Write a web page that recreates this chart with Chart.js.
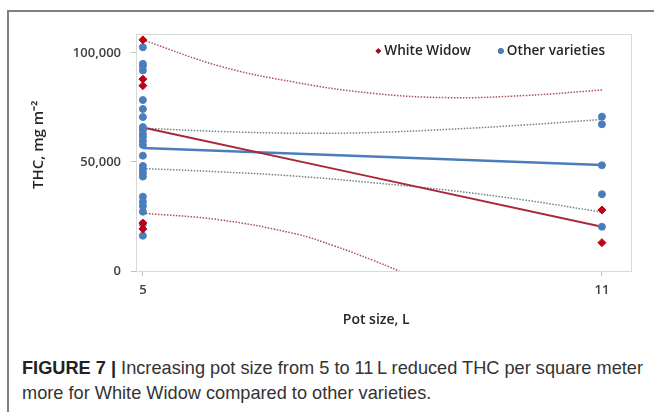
<!DOCTYPE html>
<html>
<head>
<meta charset="utf-8">
<script src="https://cdn.jsdelivr.net/npm/chart.js@4/dist/chart.umd.min.js"></script>
<style>
  html, body { margin: 0; padding: 0; background: #fff; }
  #wrap { position: relative; width: 654px; height: 412px; overflow: hidden; }
  #frame { position: absolute; left: 7px; top: 10px; width: 660px; height: 420px;
           border-top: 2px solid #808080; border-left: 2px solid #808080; }
  #chartBox { position: absolute; left: 0; top: 0; width: 654px; height: 340px; }
  #caption { position: absolute; left: 22px; top: 356px; width: 640px;
             font-family: "Liberation Sans", Arial, sans-serif; font-size: 18.2px;
             line-height: 25px; color: #333; white-space: nowrap; }
  #caption b { color: #222; }
</style>
</head>
<body>
<div id="wrap">
  <div id="frame"></div>
  <div id="chartBox"><canvas id="chart"></canvas></div>
  <div id="caption">
    <div><b>FIGURE 7 |</b> Increasing pot size from 5 to 11&#8201;L reduced THC per square meter</div>
    <div>more for White Widow compared to other varieties.</div>
  </div>
</div>
<script>
// pot size (L)
const potSizes = [5, 11];

// White Widow observations
const whiteWidow5 = [106000, 88000, 85000, 22000, 19300];
const whiteWidow11 = [28000, 13000];

// other varieties observations
const other5 = [102600, 95000, 94000, 92000, 78400, 74300, 70600, 66000, 64700, 62800, 61500,
                59600, 57800, 52900, 48200, 46600, 44900, 43300, 34100, 31800, 29800, 27200, 21600, 16200];
const other11 = [70800, 67300, 48500, 35200, 20300];

// regression lines (value at 5 L and 11 L)
const wwTrend = [65800, 20300];
const otherTrend = [56400, 48600];

// confidence bands
const bandX = [5, 6, 7, 8, 9, 10, 11];
const wwUpper = [106000, 94000, 86500, 81500, 79500, 80500, 83000];
const wwLowerX = [5, 6, 7, 7.5, 8, 8.35];
const wwLower = [26500, 23500, 17000, 11500, 5000, 0];
const otherUpper = [65500, 64000, 63200, 63500, 65000, 67000, 69500];
const otherLower = [47000, 45500, 43500, 40500, 37000, 32500, 27000];

const yTicks = [0, 50000, 100000];

const pts = (xs, ys) => ys.map((y, i) => ({ x: Array.isArray(xs) ? xs[i] : xs, y }));

const red = '#c00018';
const blue = '#4a7ebb';
const font = 'Open Sans';

// light box round the plot area
const plotBox = {
    id: 'plotBox',
    beforeDatasetsDraw(chart) {
        const a = chart.chartArea, ctx = chart.ctx;
        ctx.save();
        ctx.strokeStyle = '#d9d9d9';
        ctx.lineWidth = 1;
        ctx.strokeRect(a.left + 0.5, a.top + 0.5, a.right - a.left, a.bottom - a.top);
        ctx.restore();
    }
};

// legend drawn inside the plot, top right
const innerLegend = {
    id: 'innerLegend',
    afterDraw(chart) {
        const a = chart.chartArea, ctx = chart.ctx;
        const items = chart.data.datasets.filter(d => d.inLegend !== false);
        ctx.save();
        ctx.font = `600 13.6px "${font}"`;
        ctx.textBaseline = 'middle';
        const y = a.top + 17;
        let x = a.right - 26;
        for (let i = items.length - 1; i >= 0; i--) {
            const d = items[i];
            const w = ctx.measureText(d.label).width;
            ctx.fillStyle = '#262626';
            ctx.fillText(d.label, x - w, y);
            Chart.helpers.drawPoint(ctx, {
                pointStyle: d.pointStyle, radius: 2.8, rotation: 0, borderWidth: 0
            }, x - w - 6, y);
            ctx.fillStyle = d.backgroundColor;
            ctx.fill();
            x = x - w - 36;
        }
        ctx.restore();
    }
};

const lineDs = (data, color, width, dash, order) => ({
    type: 'line', data, borderColor: color, borderWidth: width, borderDash: dash,
    pointRadius: 0, fill: false, tension: 0.4, showLine: true, order, inLegend: false
});

new Chart(document.getElementById('chart'), {
    type: 'scatter',
    data: {
        datasets: [
            { label: 'White Widow', data: pts(5, whiteWidow5).concat(pts(11, whiteWidow11)),
              pointStyle: 'rectRot', pointRadius: 4, backgroundColor: red, borderColor: red, order: 0 },
            { label: 'Other varieties', data: pts(5, other5).concat(pts(11, other11)),
              pointStyle: 'circle', pointRadius: 3.5, backgroundColor: blue, borderColor: blue, order: 1 },
            lineDs(pts(potSizes, wwTrend), '#a8283a', 2, [], 3),
            lineDs(pts(potSizes, otherTrend), blue, 2.5, [], 3),
            lineDs(pts(bandX, wwUpper), '#a85058', 1.5, [1.5, 1.5], 4),
            lineDs(pts(wwLowerX, wwLower), '#a85058', 1.5, [1.5, 1.5], 4),
            lineDs(pts(bandX, otherUpper), '#6f8585', 1.5, [1.5, 1.5], 4),
            lineDs(pts(bandX, otherLower), '#6f8585', 1.5, [1.5, 1.5], 4)
        ]
    },
    options: {
        responsive: true,
        maintainAspectRatio: false,
        animation: false,
        layout: { padding: { left: 30, top: 34, right: 23, bottom: 0 } },
        plugins: {
            tooltip: { enabled: false },
            legend: { display: false }
        },
        scales: {
            x: {
                type: 'linear', min: 4.91, max: 11.38,
                afterFit: s => { s.height = 69; },
                afterBuildTicks: s => { s.ticks = potSizes.map(v => ({ value: v })); },
                grid: { drawOnChartArea: false, tickLength: 5, color: '#bfbfbf' },
                border: { color: '#bfbfbf' },
                ticks: { padding: 6, color: '#404040', font: { family: font, size: 13, weight: '600' } },
                title: { display: true, text: 'Pot size, L\u00A0\u00A0\u00A0\u00A0', color: '#262626',
                         font: { family: font, size: 14, weight: '600' }, padding: { top: 0, bottom: 12 } }
            },
            y: {
                min: 0, max: 108700,
                afterFit: s => { s.width = 106; },
                afterBuildTicks: s => { s.ticks = yTicks.map(v => ({ value: v })); },
                grid: { drawOnChartArea: false, tickLength: 5, color: '#bfbfbf' },
                border: { color: '#bfbfbf' },
                ticks: { padding: 10, color: '#404040', font: { family: font, size: 13, weight: '600' },
                         callback: v => v.toLocaleString('en-US') },
                title: { display: true, text: '\u00A0\u00A0\u00A0\u00A0THC, mg m\u207B\u00B2', color: '#262626',
                         font: { family: font, size: 15, weight: '600' }, padding: { top: 0, bottom: 0 } }
            }
        }
    },
    plugins: [plotBox, innerLegend]
});
</script>
</body>
</html>
